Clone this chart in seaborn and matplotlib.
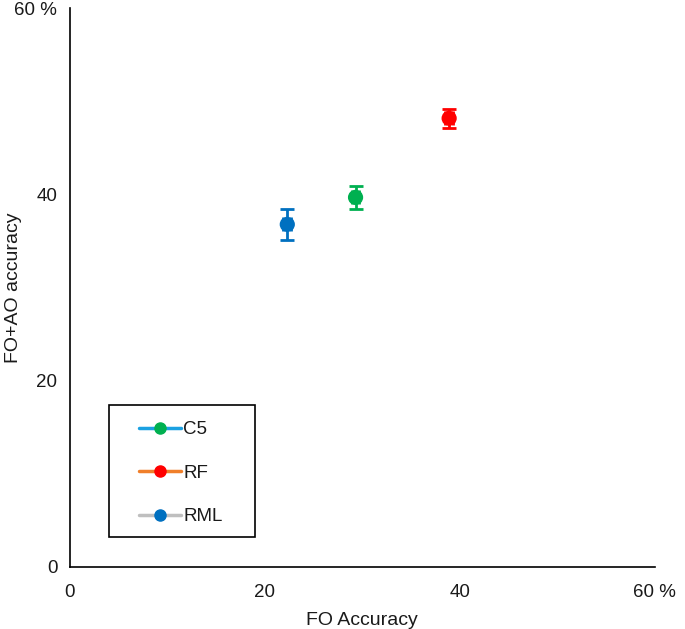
import numpy as np
import pandas as pd
import seaborn as sns
import matplotlib.pyplot as plt
from matplotlib.lines import Line2D
from matplotlib.patches import Rectangle

sns.set_style("white")
plt.rcParams['font.family'] = ['Liberation Sans', 'DejaVu Sans']
plt.rcParams['text.color'] = '#1a1a1a'
plt.rcParams['axes.labelcolor'] = '#1a1a1a'
plt.rcParams['xtick.color'] = '#1a1a1a'
plt.rcParams['ytick.color'] = '#1a1a1a'

# data
models = ["C5", "RF", "RML"]
fo_acc = [29.3, 38.9, 22.3]
fo_ao_acc = [39.7, 48.2, 36.8]
y_err = [1.2, 1.0, 1.7]
x_err = [0.4, 0.4, 0.4]
marker_colors = ["#00b050", "#ff0000", "#0070c0"]
legend_line_colors = ["#1ba1e2", "#f07f2a", "#bfbfbf"]
ticks = [0, 20, 40, 60]
tick_labels = ["0", "20", "40", "60 %"]

df = pd.DataFrame({"model": models, "fo": fo_acc, "foao": fo_ao_acc})

fig = plt.figure(figsize=(6.85, 6.29), dpi=100)
ax = fig.add_axes([0.102, 0.0986, 0.854, 0.888])

# error bars first, then points on top
for i in range(len(models)):
    ax.errorbar(fo_acc[i], fo_ao_acc[i], yerr=y_err[i], xerr=x_err[i],
                fmt="none", ecolor=marker_colors[i], elinewidth=2, capsize=5, capthick=2)
sns.scatterplot(data=df, x="fo", y="foao", hue="model", palette=marker_colors,
                marker="o", s=120, edgecolor="none", legend=False, ax=ax, zorder=3)

ax.set_xlim(0, 60)
ax.set_ylim(0, 60)
ax.set_xticks(ticks)
ax.set_xticklabels(tick_labels)
ax.set_yticks(ticks)
ax.set_yticklabels(tick_labels)
ax.tick_params(axis="both", length=0, labelsize=13.5)
ax.tick_params(axis="x", pad=12)
ax.tick_params(axis="y", pad=9)
ax.set_xlabel("FO Accuracy", fontsize=14, labelpad=8)
ax.set_ylabel("FO+AO accuracy", fontsize=14, labelpad=12)
ax.yaxis.set_label_coords(-0.082, 0.5)

for s in ["top", "right"]:
    ax.spines[s].set_visible(False)
for s in ["left", "bottom"]:
    ax.spines[s].set_color("black")
    ax.spines[s].set_linewidth(1.2)

# legend: colored line with a marker of another colour, inside a hand-drawn box
handles = []
for i in range(len(models)):
    handles.append(Line2D([0], [0], color=legend_line_colors[i], lw=2.5, marker="o",
                          markersize=8, markerfacecolor=marker_colors[i],
                          markeredgecolor=marker_colors[i]))
leg = ax.legend(handles, models, loc="center", bbox_to_anchor=(0.19, 0.168),
                frameon=False, fontsize=13.5, handlelength=2.25, labelspacing=1.4,
                borderpad=0, handletextpad=0.1, borderaxespad=0)
ax.add_patch(Rectangle((0.0667, 0.0537), 0.2493, 0.2363, transform=ax.transAxes,
                       fill=False, edgecolor="black", lw=1.2, clip_on=False))

fig.savefig("out.png", dpi=100)
